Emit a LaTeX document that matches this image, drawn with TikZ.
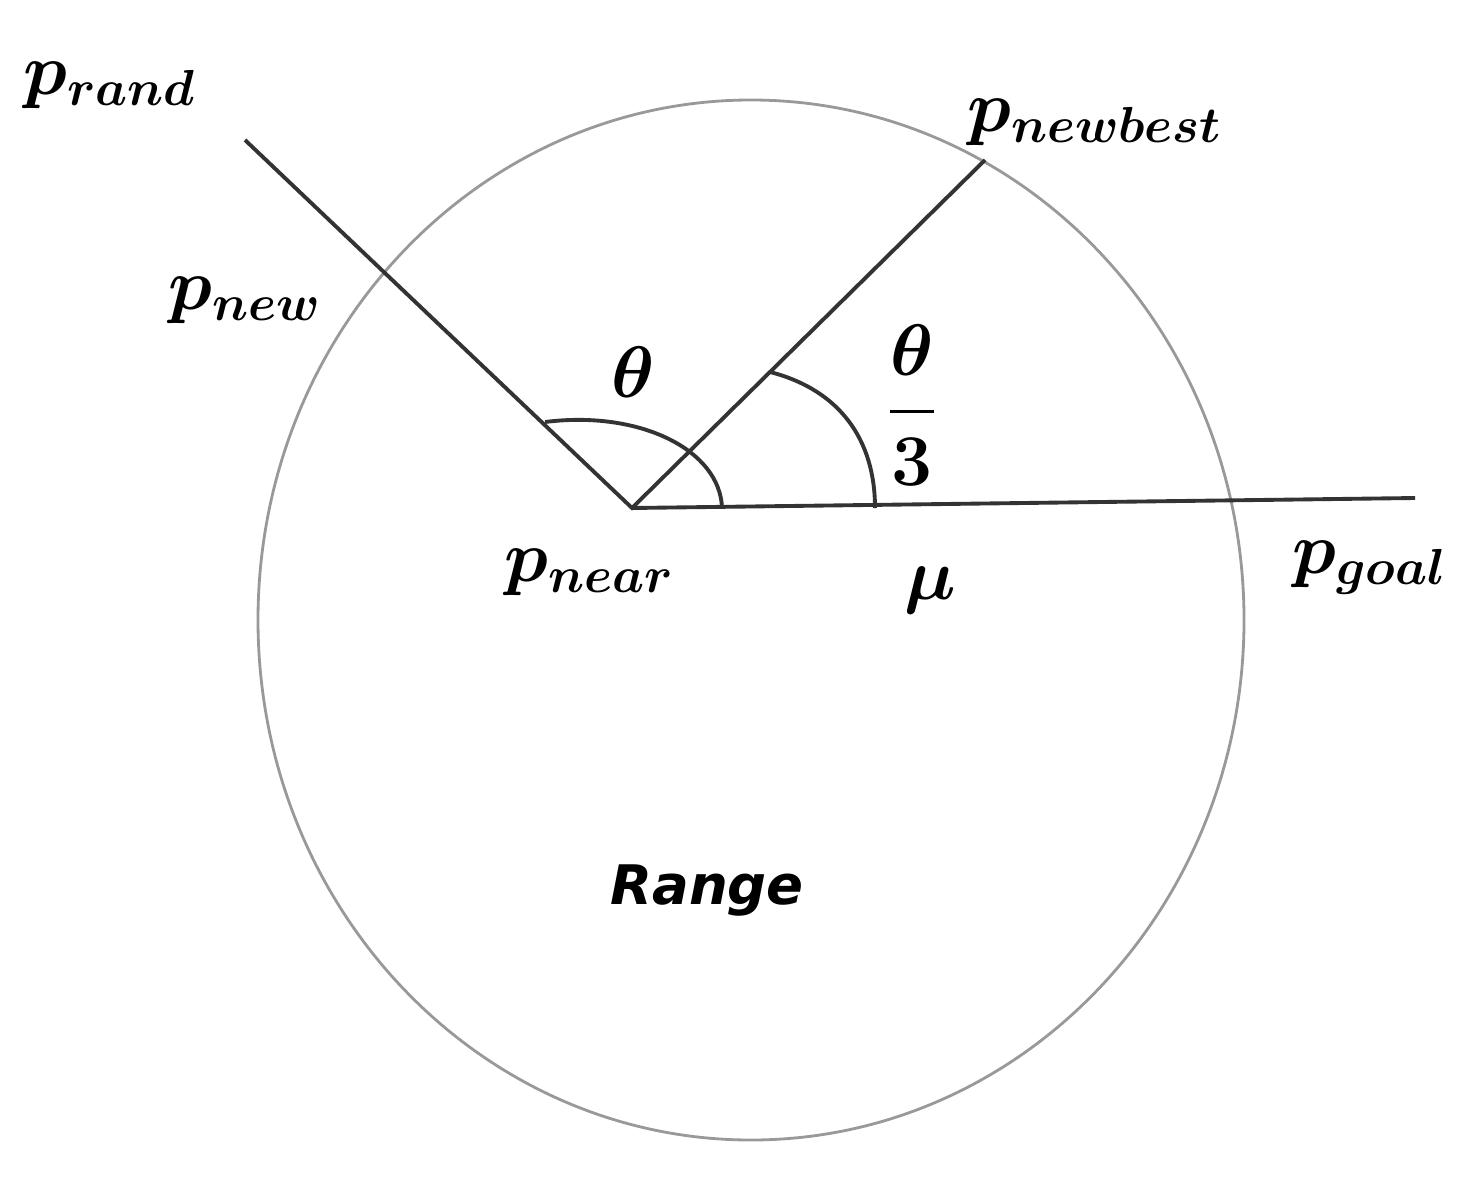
\documentclass[tikz,border=0pt]{standalone}
\usepackage{amsmath}
\usepackage{fontspec}
\newfontfamily\rangefont{DejaVu Sans}
\usetikzlibrary{positioning}
\begin{document}
\begin{tikzpicture}[x=0.01cm,y=-0.01cm]
	\tikzstyle{ray} = [line width=1.1pt, black!80]
	\tikzstyle{lbl} = [font=\huge\boldmath]
	\useasboundingbox (0,0) rectangle (1477,1182);
	
	\coordinate (near) at (632,508);
	\coordinate (rand) at (245,140);
	\coordinate (best) at (985,160);
	\coordinate (goal) at (1415,498);
	
	\draw [gray!80, line width=0.8pt] (751,620) ellipse [x radius=493, y radius=520];
	
	\draw [ray] (rand) -- (near) -- (best);
	\draw [ray] (near) -- (goal);
	
	\draw [ray] (545,422) .. controls (640,410) and (720,450) .. (722,508);
	\draw [ray] (770,372) .. controls (840,390) and (875,440) .. (875,508);
	
	\node (randLabel) [lbl] at (110,85) {$p_{rand}$};
	\node (newLabel) [lbl] at (245,300) {$p_{new}$};
	\node (bestLabel) [lbl] at (1095,122) {$p_{newbest}$};
	\node (nearLabel) [lbl] at (590,572) {$p_{near}$};
	\node (goalLabel) [lbl] at (1370,568) {$p_{goal}$};
	\node (muLabel) [lbl] at (930,590) {$\mu$};
	\node (thetaLabel) [lbl] at (633,372) {$\theta$};
	\node (thirdLabel) [lbl] at (912,405) {$\dfrac{\theta}{3}$};
	\node (rangeLabel) [font=\rangefont\bfseries\itshape\fontsize{15.5}{19}\selectfont] at (707,890) {Range};
\end{tikzpicture}
\end{document}
